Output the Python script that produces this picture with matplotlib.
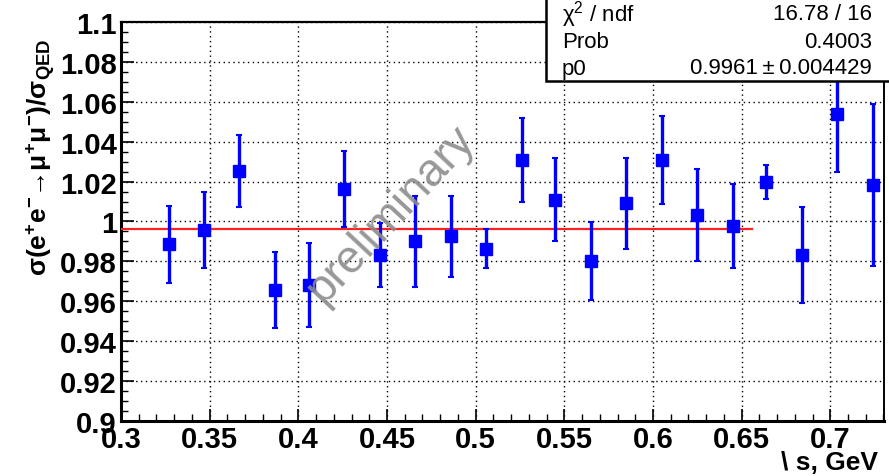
import numpy as np
import matplotlib
matplotlib.use('Agg')
import matplotlib.pyplot as plt
from matplotlib.ticker import MultipleLocator
from matplotlib.patches import Rectangle

plt.rcParams['font.family'] = ['Liberation Sans', 'DejaVu Sans']
plt.rcParams['mathtext.fontset'] = 'custom'
plt.rcParams['mathtext.rm'] = 'Liberation Sans'
plt.rcParams['mathtext.bf'] = 'Liberation Sans:bold'
plt.rcParams['mathtext.default'] = 'regular'

# ratio of measured mu+mu- cross section to QED prediction
energy = [0.327, 0.347, 0.3665, 0.387, 0.406, 0.426, 0.446, 0.466, 0.486, 0.506,
          0.526, 0.545, 0.565, 0.585, 0.605, 0.625, 0.645, 0.664, 0.684, 0.704, 0.724]
ratio = [0.9885, 0.9958, 1.0252, 0.9658, 0.968, 1.0163, 0.9832, 0.9902, 0.9927, 0.9863,
         1.0307, 1.011, 0.9802, 1.0092, 1.0308, 1.0032, 0.9978, 1.0198, 0.9832, 1.054, 1.0182]
ratio_err = [0.0195, 0.019, 0.018, 0.019, 0.021, 0.019, 0.016, 0.0228, 0.0203, 0.0097,
             0.021, 0.021, 0.0195, 0.0228, 0.022, 0.023, 0.021, 0.0084, 0.024, 0.029, 0.0405]

# constant fit
p0 = 0.9961
p0_err = 0.004429
fit_range = [0.3, 0.656]
chi2, ndf, prob = 16.78, 16, 0.4003

fig = plt.figure(figsize=(8.89, 4.77), dpi=100)
ax = fig.add_axes([0.1361, 0.1153, 0.8583, 0.8365])

ax.set_xlim(0.3, 0.7303)
ax.set_ylim(0.9, 1.1)

ax.grid(True, which='major', color='black', linestyle=(0, (1, 2.5)), linewidth=1.0)
ax.set_axisbelow(True)

ax.plot(fit_range, [p0, p0], color='#ff2020', lw=1.6, zorder=3)

ax.errorbar(energy, ratio, yerr=ratio_err, fmt='s', color='#0000ff',
            markersize=8, elinewidth=2.4, capsize=2.2, capthick=1.5, zorder=4)

ax.xaxis.set_major_locator(MultipleLocator(0.05))
ax.xaxis.set_minor_locator(MultipleLocator(0.01))
ax.yaxis.set_major_locator(MultipleLocator(0.02))
ax.yaxis.set_minor_locator(MultipleLocator(0.005))
ax.set_xticks(np.arange(0.3, 0.701, 0.05))
ax.set_xticklabels(['0.3', '0.35', '0.4', '0.45', '0.5', '0.55', '0.6', '0.65', '0.7'])
ax.set_yticks(np.arange(0.9, 1.1001, 0.02))
ax.set_yticklabels(['0.9', '0.92', '0.94', '0.96', '0.98', '1', '1.02', '1.04',
                    '1.06', '1.08', '1.1'])

ax.tick_params(which='major', direction='in', length=9, width=1.2,
               labelsize=21, pad=3)
ax.tick_params(which='minor', direction='in', length=5, width=1.0)
for lbl in ax.get_xticklabels() + ax.get_yticklabels():
    lbl.set_fontweight('bold')

ax.spines['left'].set_linewidth(2.2)
ax.spines['bottom'].set_linewidth(2.2)
ax.spines['top'].set_linewidth(1.6)
ax.spines['right'].set_linewidth(1.4)

ax.text(0.452, 1.004, 'preliminary', fontsize=33, color='#8c8c8c', alpha=0.9,
        rotation=47, ha='center', va='center', zorder=5)

fig.text(0.046, 0.67, 'σ(e$^{+}$e$^{-}$→μ$^{+}$μ$^{-}$)/σ$_{QED}$',
         rotation=90, fontsize=19, fontweight='bold', ha='center', va='center')
fig.text(0.988, 0.03, '\\ s, GeV', fontsize=19, fontweight='bold',
         ha='right', va='center')

# fit statistics box
box = Rectangle((0.6142, 0.828), 0.42, 0.2, transform=fig.transFigure,
                facecolor='white', edgecolor='black', lw=1.8, zorder=10)
fig.patches.append(box)
rows = [(r'$\chi^{2}$ / ndf', f'{chi2:.2f} / {ndf}'),
        ('Prob', f'{prob:.4f}'),
        ('p0', f'{p0:.4f}' + '\u2009\u00b1\u2009' + f'{p0_err:.6f}')]
for i, (name, val) in enumerate(rows):
    yy = 1 - (15 + 27 * i) / 477
    fig.text(0.632, yy, name, fontsize=16, ha='left', va='center', zorder=11)
    fig.text(0.981, yy, val, fontsize=16, ha='right', va='center', zorder=11)

fig.savefig('out.png', dpi=100)
